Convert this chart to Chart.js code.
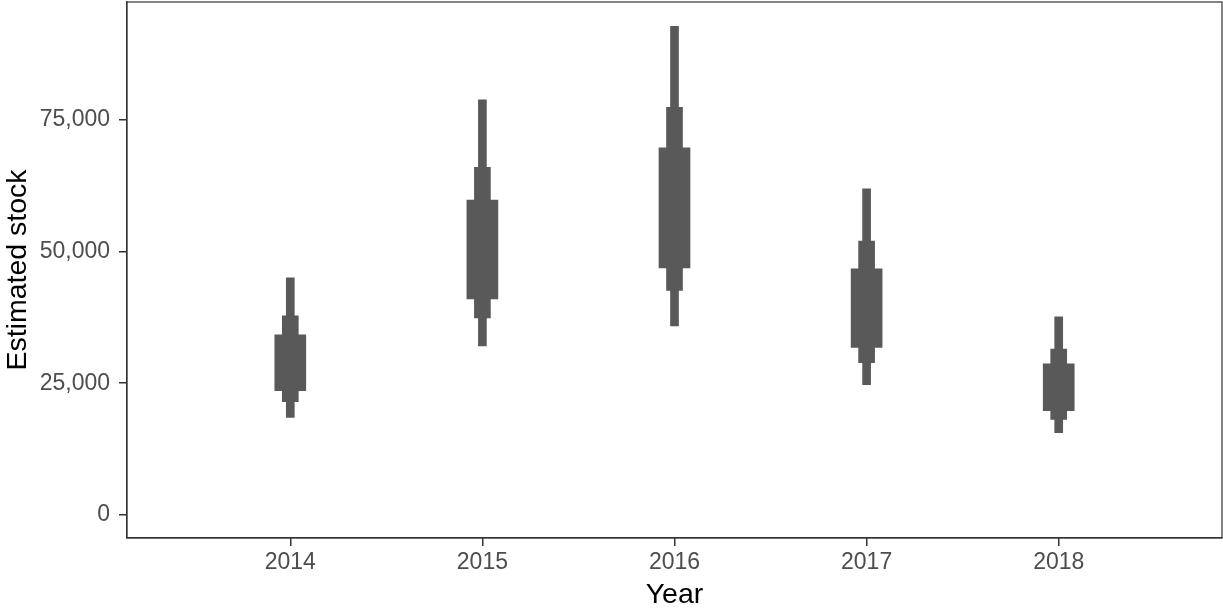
<!DOCTYPE html>
<html>
<head>
<meta charset="utf-8">
<script src="https://cdn.jsdelivr.net/npm/chart.js@4.4.0/dist/chart.umd.min.js"></script>
<style>
    html, body { margin: 0; padding: 0; background: #ffffff; }
    #wrap { width: 1223px; height: 609px; }
</style>
</head>
<body>
<div id="wrap"><canvas id="chartStock" width="1223" height="609"></canvas></div>
<script>
// Estimated stock per year, three nested intervals
const years = [2014, 2015, 2016, 2017, 2018];

// thickest bar (narrowest interval)
const innerLow  = [23600, 41000, 46900, 31800, 19800];
const innerHigh = [34200, 59800, 69700, 46700, 28700];

// middle bar
const midLow  = [21500, 37400, 42600, 28900, 18100];
const midHigh = [37800, 66000, 77400, 52000, 31500];

// thin bar (widest interval)
const outerLow  = [18500, 32100, 35900, 24700, 15600];
const outerHigh = [45000, 78800, 92800, 61900, 37600];

const yTicks = [0, 25000, 50000, 75000];

const barColor = "#595959";
const font = "'Liberation Sans', Arial, Helvetica, sans-serif";

function toBars(lows, highs) {
    return years.map((y, i) => ({ x: y, y: [lows[i], highs[i]] }));
}

// dark frame around the panel
const panelBorder = {
    id: "panelBorder",
    afterDraw(chart) {
        const { ctx, chartArea: a } = chart;
        ctx.save();
        ctx.strokeStyle = "#333333";
        ctx.lineWidth = 1.2;
        ctx.strokeRect(a.left, a.top, a.right - a.left, a.bottom - a.top);
        ctx.restore();
    }
};

const ctx = document.getElementById("chartStock");
new Chart(ctx, {
    type: "bar",
    data: {
        datasets: [
            { data: toBars(outerLow, outerHigh), barThickness: 8 },
            { data: toBars(midLow, midHigh), barThickness: 16 },
            { data: toBars(innerLow, innerHigh), barThickness: 31 }
        ].map(d => Object.assign(d, {
            backgroundColor: barColor,
            borderWidth: 0,
            grouped: false
        }))
    },
    options: {
        responsive: false,
        animation: false,
        layout: { padding: { top: 2, right: 1, bottom: 0, left: 0 } },
        plugins: {
            legend: { display: false },
            tooltip: { enabled: false }
        },
        scales: {
            x: {
                type: "linear",
                offset: false,
                min: 2013.15,
                max: 2018.85,
                afterBuildTicks: s => { s.ticks = years.map(v => ({ value: v })); },
                afterFit: s => { s.height = 71; s.paddingLeft = 0; s.paddingRight = 0; },
                grid: { offset: false, drawOnChartArea: false, drawTicks: true, tickLength: 8, color: "#333333", lineWidth: 1.5 },
                border: { display: true, color: "#333333", width: 1.2 },
                ticks: {
                    color: "#4d4d4d",
                    font: { family: font, size: 23 },
                    padding: 3,
                    maxRotation: 0,
                    callback: v => String(v)
                },
                title: {
                    display: true,
                    text: "Year",
                    color: "#000000",
                    font: { family: font, size: 28.5 },
                    padding: { top: 0, bottom: -3 }
                }
            },
            y: {
                min: -4400,
                max: 97400,
                afterBuildTicks: s => { s.ticks = yTicks.map(v => ({ value: v })); },
                afterFit: s => { s.width = 127; s.paddingTop = 0; s.paddingBottom = 0; },
                grid: { drawOnChartArea: false, drawTicks: true, tickLength: 8, color: "#333333", lineWidth: 1.5 },
                border: { display: true, color: "#333333", width: 1.2 },
                ticks: {
                    color: "#4d4d4d",
                    font: { family: font, size: 23 },
                    padding: 9,
                    callback: v => v.toLocaleString("en-US")
                },
                title: {
                    display: true,
                    text: "Estimated stock",
                    color: "#000000",
                    font: { family: font, size: 28.5 },
                    padding: { top: 1, bottom: 0 }
                }
            }
        }
    },
    plugins: [panelBorder]
});
</script>
</body>
</html>
